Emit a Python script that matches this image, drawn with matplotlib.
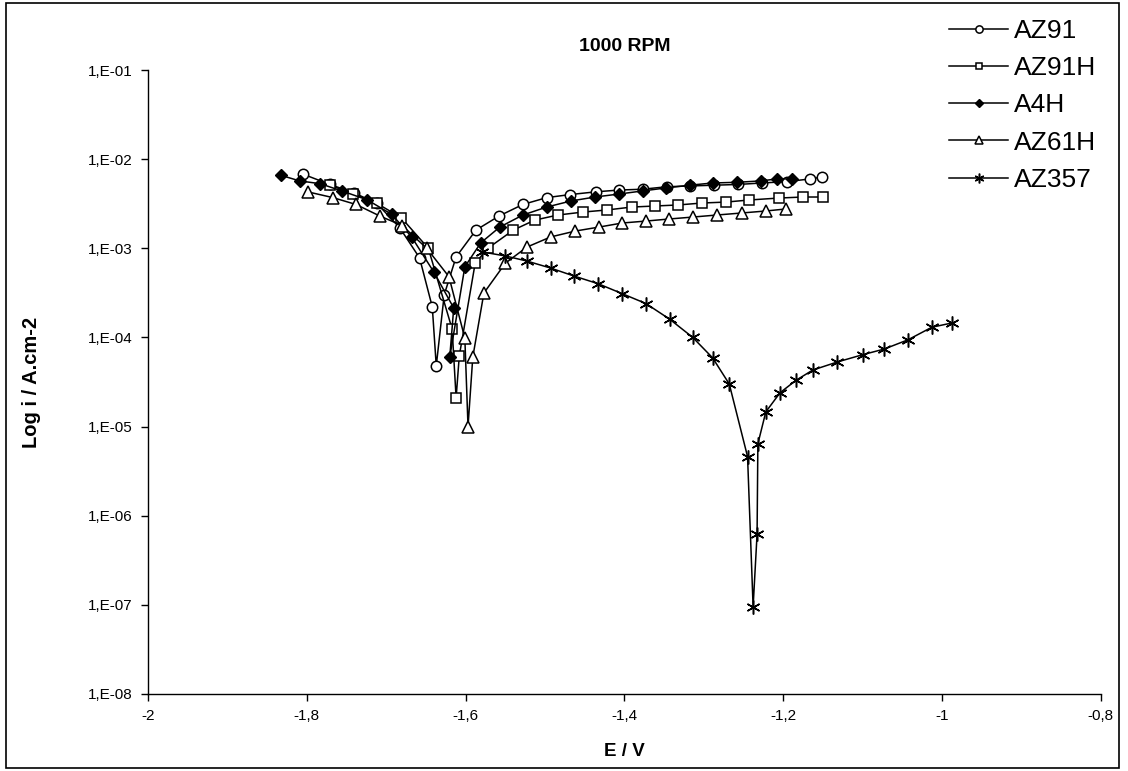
import matplotlib
matplotlib.use("Agg")
import matplotlib.pyplot as plt
from matplotlib.patches import Rectangle
from matplotlib.ticker import FixedLocator, NullLocator

plt.rcParams["font.family"] = ["Liberation Sans", "DejaVu Sans"]

# potential (V) and current density (A/cm2)
e_az91 = [-1.805, -1.771, -1.741, -1.712, -1.683, -1.658, -1.642, -1.637,
          -1.627, -1.612, -1.587, -1.558, -1.528, -1.498, -1.469, -1.436,
          -1.407, -1.377, -1.347, -1.318, -1.287, -1.257, -1.227, -1.195,
          -1.166, -1.151]
i_az91 = [6.8e-3, 5.2e-3, 4.2e-3, 3.2e-3, 1.7e-3, 7.8e-4, 2.2e-4, 4.8e-5,
          3.0e-4, 8.0e-4, 1.6e-3, 2.3e-3, 3.1e-3, 3.7e-3, 4.0e-3, 4.3e-3,
          4.5e-3, 4.6e-3, 4.9e-3, 5.0e-3, 5.1e-3, 5.2e-3, 5.4e-3, 5.6e-3,
          6.0e-3, 6.3e-3]

e_az91h = [-1.771, -1.742, -1.712, -1.681, -1.647, -1.617, -1.612, -1.608,
           -1.588, -1.572, -1.540, -1.513, -1.484, -1.452, -1.422, -1.391,
           -1.362, -1.333, -1.302, -1.272, -1.243, -1.206, -1.175, -1.150]
i_az91h = [5.1e-3, 4.1e-3, 3.2e-3, 2.2e-3, 1.0e-3, 1.24e-4, 2.1e-5, 6.2e-5,
           6.8e-4, 1.0e-3, 1.6e-3, 2.07e-3, 2.36e-3, 2.55e-3, 2.69e-3, 2.9e-3,
           2.98e-3, 3.06e-3, 3.22e-3, 3.3e-3, 3.48e-3, 3.66e-3, 3.76e-3, 3.76e-3]

e_a4h = [-1.833, -1.809, -1.783, -1.756, -1.724, -1.693, -1.668, -1.640,
         -1.615, -1.620, -1.601, -1.581, -1.557, -1.528, -1.498, -1.467,
         -1.437, -1.407, -1.377, -1.348, -1.318, -1.289, -1.258, -1.228,
         -1.208, -1.189]
i_a4h = [6.6e-3, 5.7e-3, 5.3e-3, 4.4e-3, 3.5e-3, 2.4e-3, 1.34e-3, 5.4e-4,
         2.14e-4, 6.0e-5, 6.2e-4, 1.15e-3, 1.73e-3, 2.36e-3, 2.9e-3, 3.4e-3,
         3.76e-3, 4.06e-3, 4.4e-3, 4.75e-3, 5.1e-3, 5.4e-3, 5.5e-3, 5.7e-3,
         6.0e-3, 6.0e-3]

e_az61h = [-1.799, -1.767, -1.738, -1.708, -1.680, -1.649, -1.621, -1.601,
           -1.597, -1.591, -1.577, -1.550, -1.523, -1.493, -1.462, -1.432,
           -1.403, -1.373, -1.344, -1.314, -1.284, -1.252, -1.222, -1.197]
i_az61h = [4.3e-3, 3.7e-3, 3.1e-3, 2.3e-3, 1.8e-3, 1.0e-3, 4.8e-4, 9.8e-5,
           1.0e-5, 6.0e-5, 3.15e-4, 6.8e-4, 1.03e-3, 1.34e-3, 1.56e-3, 1.73e-3,
           1.92e-3, 2.02e-3, 2.13e-3, 2.24e-3, 2.36e-3, 2.49e-3, 2.62e-3, 2.76e-3]

e_az357 = [-1.579, -1.550, -1.523, -1.493, -1.464, -1.433, -1.403, -1.373,
           -1.343, -1.314, -1.289, -1.268, -1.245, -1.238, -1.233, -1.232,
           -1.222, -1.204, -1.184, -1.163, -1.132, -1.100, -1.073, -1.043,
           -1.013, -0.988]
i_az357 = [9.1e-4, 8.2e-4, 7.2e-4, 6.0e-4, 4.9e-4, 4.0e-4, 3.1e-4, 2.4e-4,
           1.6e-4, 1.0e-4, 5.9e-5, 3.0e-5, 4.6e-6, 9.5e-8, 6.2e-7, 6.4e-6,
           1.46e-5, 2.4e-5, 3.3e-5, 4.3e-5, 5.3e-5, 6.4e-5, 7.4e-5, 9.4e-5,
           1.3e-4, 1.45e-4]

x_ticks = [-2, -1.8, -1.6, -1.4, -1.2, -1, -0.8]
x_tick_labels = ["-2", "-1,8", "-1,6", "-1,4", "-1,2", "-1", "-0,8"]
y_ticks = [1e-8, 1e-7, 1e-6, 1e-5, 1e-4, 1e-3, 1e-2, 1e-1]
y_tick_labels = ["1,E-08", "1,E-07", "1,E-06", "1,E-05", "1,E-04",
                 "1,E-03", "1,E-02", "1,E-01"]

fig = plt.figure(figsize=(11.28, 7.71), dpi=100)
ax = fig.add_axes([0.1312, 0.0999, 0.8448, 0.8093])

asterisk = (6, 2, 0)
ax.plot(e_az91, i_az91, color="black", lw=1.1, marker="o", ms=7.5,
        mfc="white", mec="black", mew=1.1, label="AZ91")
ax.plot(e_az91h, i_az91h, color="black", lw=1.1, marker="s", ms=7,
        mfc="white", mec="black", mew=1.1, label="AZ91H")
ax.plot(e_a4h, i_a4h, color="black", lw=1.1, marker="D", ms=6.5,
        mfc="black", mec="black", label="A4H")
ax.plot(e_az61h, i_az61h, color="black", lw=1.1, marker="^", ms=8,
        mfc="white", mec="black", mew=1.1, label="AZ61H")
ax.plot(e_az357, i_az357, color="black", lw=1.1, marker=asterisk, ms=10,
        mec="black", mew=1.1, label="AZ357")

ax.set_yscale("log")
ax.set_xlim(-2, -0.8)
ax.set_ylim(1e-8, 1e-1)
ax.xaxis.set_major_locator(FixedLocator(x_ticks))
ax.set_xticklabels(x_tick_labels)
ax.yaxis.set_major_locator(FixedLocator(y_ticks))
ax.yaxis.set_minor_locator(NullLocator())
ax.set_yticklabels(y_tick_labels)
ax.tick_params(axis="both", direction="out", length=5, width=1,
               labelsize=11, pad=6)

for side in ["top", "right"]:
    ax.spines[side].set_visible(False)
for side in ["left", "bottom"]:
    ax.spines[side].set_linewidth(1.0)

ax.set_title("1000 RPM", fontsize=14, fontweight="bold", pad=14)
ax.set_xlabel("E / V", fontsize=13.5, fontweight="bold", labelpad=14)
ax.set_ylabel("Log i / A.cm-2", fontsize=14.5, fontweight="bold", labelpad=34)

leg = fig.legend(loc="upper left", bbox_to_anchor=(949 / 1128, 1 - 19 / 771),
                 frameon=False, fontsize=19, handlelength=2.25,
                 handletextpad=0.2, labelspacing=0.5, markerscale=0.7,
                 borderpad=0, borderaxespad=0)

fig.patches.append(Rectangle((6 / 1128, 3 / 771), 1113 / 1128, 765 / 771,
                             transform=fig.transFigure, fill=False,
                             edgecolor="black", lw=1.2))

plt.savefig("out.png", dpi=100)
plt.close()
